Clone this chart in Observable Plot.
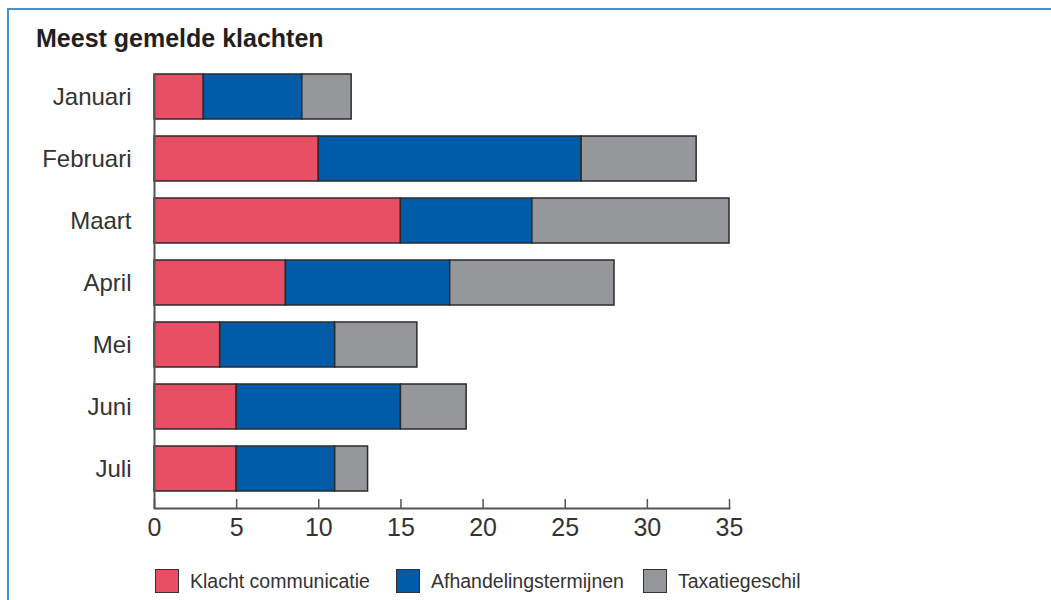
<!DOCTYPE html>
<html><head><meta charset="utf-8">
<script src="https://cdn.jsdelivr.net/npm/d3@7"></script>
<script src="https://cdn.jsdelivr.net/npm/@observablehq/plot@0.6"></script>
<style>
body{margin:0;background:#fff;}
#wrap{position:relative;width:1051px;height:600px;overflow:hidden;font-family:"Liberation Sans",Arial,sans-serif;background:#fff;}
#border{position:absolute;left:7px;top:8px;width:1100px;height:700px;border-top:2px solid #4a8fc6;border-left:2px solid #4a8fc6;}
#title{position:absolute;left:36px;top:26px;font-size:25px;font-weight:bold;color:#231f20;line-height:1;}
#chart{position:absolute;left:0;top:0;}
.lg{position:absolute;top:569px;height:24px;display:flex;align-items:center;font-size:19.5px;color:#333;}
.sw{width:24px;height:24px;border:1.5px solid #333;box-sizing:border-box;margin-right:11px;}
</style></head>
<body><div id="wrap"><div id="border"></div><div id="title">Meest gemelde klachten</div><div id="chart"></div><div id="legend"></div></div>
<script>
const months = ["Januari","Februari","Maart","April","Mei","Juni","Juli"];
const klachtCommunicatie = [3,10,15,8,4,5,5];
const afhandelingstermijnen = [6,16,8,10,7,10,6];
const taxatiegeschil = [3,7,12,10,5,4,2];
const seriesNames = ["Klacht communicatie","Afhandelingstermijnen","Taxatiegeschil"];
const seriesColors = ["#e84f64","#005ca8","#96979b"];
const xTicks = [0,5,10,15,20,25,30,35];

const seriesValues = [klachtCommunicatie, afhandelingstermijnen, taxatiegeschil];
const data = months.flatMap((m,i)=>seriesNames.map((s,j)=>({month:m, series:s, value:seriesValues[j][i]})));

const plot = Plot.plot({
  width:1051, height:548,
  marginLeft:154, marginRight:322, marginTop:57, marginBottom:40,
  style:{fontFamily:'"Liberation Sans",Arial,sans-serif', fontSize:"22px", color:"#333", background:"transparent"},
  x:{domain:[0,35]},
  y:{domain:months, padding:0.27},
  color:{domain:seriesNames, range:seriesColors},
  marks:[
    Plot.barX(data, Plot.stackX({x:"value", y:"month", fill:"series", stroke:"#2b2b2b", strokeWidth:1.5})),
    Plot.ruleX([0], {stroke:"#555", strokeWidth:2, insetTop:17}),
    Plot.frame({anchor:"bottom", stroke:"#555", strokeWidth:2}),
    Plot.axisX({ticks:xTicks, tickSize:-9, tickPadding:19, label:null, stroke:"#555", strokeWidth:1.5, fill:"#333", fontSize:25}),
    Plot.axisY({tickSize:0, tickPadding:23, label:null, fill:"#333", fontSize:24, style:{letterSpacing:"-0.5px"}})
  ]
});
document.getElementById("chart").appendChild(plot);

const legend = document.getElementById("legend");
const lgLeft = [155, 396, 643];
seriesNames.forEach((s,i)=>{
  const d = document.createElement("div");
  d.className = "lg"; d.style.left = lgLeft[i]+"px";
  d.innerHTML = `<div class="sw" style="background:${seriesColors[i]}"></div><span>${s}</span>`;
  legend.appendChild(d);
});
</script></body></html>
